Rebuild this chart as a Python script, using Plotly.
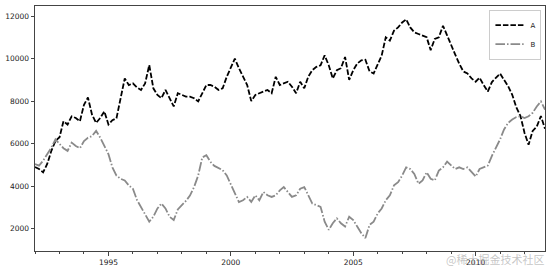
import pandas as pd
import plotly.graph_objects as go

# Bi-monthly readings from the reference (1992-01 .. 2012-11)
dates = pd.date_range("1992-01-01", periods=126, freq="2MS")

series_a = [
    4900, 4806, 4650, 5039, 5659, 6124, 6300, 7054, 6899, 7287,
    7209, 7054, 7829, 8170, 7364, 6977, 7209, 7519, 6899, 7100,
    7200, 8200, 9069, 8759, 8836, 8650, 8526, 8836, 9700, 8604,
    8294, 8139, 8526, 8139, 7750, 8371, 8294, 8216, 8216, 8139,
    7984, 8371, 8759, 8759, 8681, 8526, 8604, 9146, 9612, 10000,
    9550, 9146, 8759, 8000, 8294, 8371, 8449, 8526, 8371, 9146,
    8759, 8836, 8914, 8681, 8371, 8914, 8604, 9146, 9457, 9612,
    9689, 10154, 9689, 9069, 9457, 9550, 10077, 9000, 9457, 9767,
    9922, 9950, 9400, 9300, 9700, 10150, 11007, 10852, 11317, 11471,
    11704, 11850, 11471, 11239, 11162, 11084, 11007, 10400, 10929, 11007,
    11549, 11100, 10600, 10200, 9767, 9400, 9300, 9069, 8914, 9100,
    8759, 8450, 8900, 9100, 9300, 9000, 8700, 8300, 7700, 7300,
    6500, 5950, 6600, 6800, 7300, 6700,
]

series_b = [
    5039, 4961, 5194, 5504, 5814, 6200, 5969, 5783, 5659, 6046,
    5891, 5783, 6124, 6279, 6356, 6600, 6279, 5891, 5504, 4884,
    4496, 4342, 4264, 4032, 3877, 3350, 3024, 2714, 2327, 2559,
    2947, 3179, 2947, 2559, 2400, 2900, 3100, 3300, 3550, 3950,
    4500, 5350, 5450, 5150, 4950, 4850, 4750, 4500, 4100, 3700,
    3250, 3334, 3489, 3257, 3567, 3334, 3722, 3567, 3489, 3567,
    3799, 3954, 3722, 3489, 3567, 3877, 3954, 3567, 3179, 3101,
    3024, 2327, 1939, 2249, 2482, 2249, 2094, 2559, 2404, 2094,
    1784, 1552, 2172, 2327, 2714, 2947, 3334, 3567, 4032, 4187,
    4496, 4884, 4806, 4574, 4109, 4264, 4651, 4342, 4264, 4729,
    4884, 5150, 4950, 4806, 4884, 4806, 4884, 4651, 4450, 4806,
    4884, 4961, 5427, 5814, 6201, 6666, 6977, 7132, 7250, 7287,
    7200, 7287, 7450, 7751, 7984, 7600,
]

y_ticks = [2000, 4000, 6000, 8000, 10000, 12000]
y_limits = [944, 12479]
watermark = "@稀土掘金技术社区"

fig = go.Figure()
fig.add_trace(go.Scatter(
    x=dates, y=series_a, name="A", mode="lines",
    line=dict(color="black", width=1.8, dash="5.5px,2px"),
))
fig.add_trace(go.Scatter(
    x=dates, y=series_b, name="B", mode="lines",
    line=dict(color="#8a8a8a", width=1.8, dash="9.6px,2px,1.5px,2px"),
))

axis_font = dict(family="DejaVu Sans", size=7.5, color="#222")

fig.update_layout(
    width=551, height=272,
    margin=dict(l=35, r=6, t=5, b=19),
    paper_bgcolor="white", plot_bgcolor="white",
    showlegend=True,
    legend=dict(
        x=0.993, y=0.985, xanchor="right", yanchor="top",
        bgcolor="white", bordercolor="#cccccc", borderwidth=1,
        font=dict(family="DejaVu Sans", size=7, color="#222"),
        itemwidth=30, tracegroupgap=0,
    ),
    annotations=[dict(
        text=watermark, xref="paper", yref="paper",
        x=1.0, y=-0.07, xanchor="right", yanchor="bottom",
        showarrow=False, borderpad=0,
        font=dict(family="Noto Sans CJK SC", size=11, color="rgba(160,160,160,0.6)"),
    )],
)

fig.update_xaxes(
    range=[dates[0], dates[-1]],
    showgrid=False, zeroline=False,
    showline=True, mirror=True, linecolor="#444", linewidth=1,
    ticks="outside", ticklen=3.5, tickcolor="#444",
    tick0="1990-01-01", dtick="M60", tickformat="%Y",
    tickfont=axis_font,
    minor=dict(dtick="M12", ticks="outside", ticklen=2, tickcolor="#444", showgrid=False),
)
fig.update_yaxes(
    range=y_limits,
    showgrid=False, zeroline=False,
    showline=True, mirror=True, linecolor="#444", linewidth=1,
    ticks="outside", ticklen=3.5, tickcolor="#444",
    tickvals=y_ticks, tickformat="d", tickfont=axis_font,
)

fig.write_html("out.html")
